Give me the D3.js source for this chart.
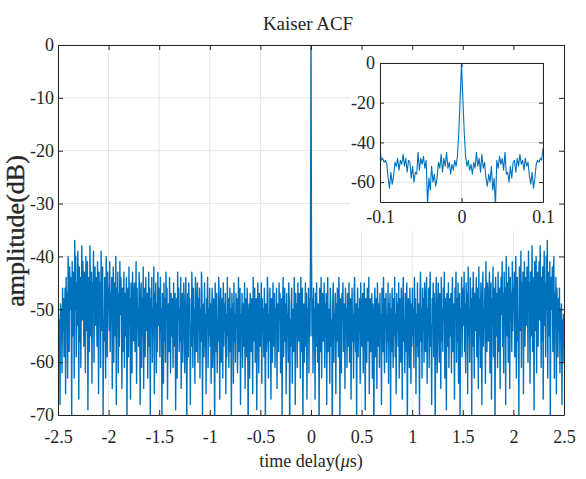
<!DOCTYPE html>
<html>
<head>
<meta charset="utf-8">
<script src="https://cdn.jsdelivr.net/npm/d3@7"></script>
<style>
  body { margin: 0; background: #fff; }
  text { font-family: "Liberation Serif", "Times New Roman", serif; fill: #262626; }
</style>
</head>
<body>
<svg id="chart" width="586" height="479"></svg>
<script>
// one-sided ACF in dB, lag 0 .. 2.5 us (the curve is symmetric about 0)
var acfMain = [
  0, -40, -55, -48, -62, -46, -53, -50, -67, -47, -57, -45, -52, -60, -49, -54, -72, -46, -51, -58, -44, -63, -50, -47, -56,
  -52, -45, -61, -49, -55, -47, -68, -51, -44, -58, -50, -53, -64, -46, -49, -57, -52, -75, -48, -45, -60, -51, -54, -47, -66,
  -49, -56, -46, -52, -59, -44, -50, -70, -48, -55, -62, -47, -51, -45, -58, -53, -49, -65, -46, -54, -50, -61, -47, -57, -52,
  -45, -60, -50, -48, -67, -53, -46, -56, -51, -63, -47, -44, -55, -58, -49, -71, -52, -46, -59, -50, -54, -48, -64, -45, -53,
  -57, -49, -47, -62, -51, -45, -55, -69, -48, -52, -60, -46, -50, -56, -44, -66, -53, -48, -58, -51, -47, -63, -49, -55, -74,
  -50, -46, -59, -53, -48, -65, -45, -52, -57, -49, -61, -47, -54, -51, -68, -46, -50, -58, -44, -55, -62, -48, -53, -47, -60,
  -51, -56, -45, -64, -49, -53, -47, -70, -50, -58, -46, -52, -61, -48, -55, -44, -59, -51, -66, -47, -54, -49, -57, -45, -63,
  -48, -53, -60, -46, -51, -67, -49, -44, -56, -52, -62, -47, -58, -50, -45, -73, -53, -48, -55, -61, -46, -51, -64, -49, -57,
  -46, -55, -50, -61, -44, -52, -48, -66, -51, -57, -45, -59, -49, -53, -70, -47, -43, -56, -50, -63, -46, -54, -48, -60, -45,
  -52, -58, -47, -44, -64, -50, -55, -46, -61, -49, -43, -57, -53, -68, -48, -51, -45, -59, -47, -54, -72, -50, -44, -56, -62,
  -49, -45, -53, -60, -47, -51, -65, -44, -56, -50, -58, -46, -52, -43, -63, -48, -54, -69, -47, -50, -57, -45, -61, -52, -48,
  -55, -47, -62, -50, -44, -58, -49, -53, -67, -46, -51, -43, -60, -48, -56, -45, -64, -52, -47, -71, -50, -54, -44, -59, -49,
  -46, -53, -43, -58, -49, -62, -45, -51, -47, -66, -42, -55, -50, -60, -44, -52, -48, -70, -46, -57, -43, -50, -63, -47, -54,
  -49, -44, -59, -52, -46, -65, -42, -55, -48, -61, -45, -51, -68, -47, -43, -57, -50, -53, -46, -64, -41, -52, -58, -45, -49,
  -56, -47, -43, -62, -50, -45, -67, -48, -53, -42, -59, -46, -51, -72, -44, -49, -55, -47, -61, -43, -52, -58, -46, -65, -48,
  -44, -51, -41, -57, -47, -62, -43, -53, -46, -68, -40, -50, -55, -45, -60, -42, -49, -65, -44, -52, -47, -58, -41, -54, -46,
  -50, -43, -59, -46, -40, -63, -48, -44, -56, -52, -70, -42, -47, -54, -39, -61, -45, -51, -43, -66, -47, -41, -57, -49, -44,
  -53, -42, -47, -60, -39, -50, -45, -64, -43, -55, -48, -38, -58, -44, -51, -69, -41, -46, -54, -40, -62, -47, -43, -57, -45,
  -41, -52, -38, -48, -61, -44, -56, -42, -67, -46, -39, -53, -45, -59, -40, -50, -37, -63, -47, -43, -55, -41, -71, -48, -44,
  -50, -42, -58, -45, -40, -63, -47, -53, -44, -66, -46, -51, -59, -48, -54, -46, -62, -50, -55, -49, -68, -52, -57, -51, -60
];
var mainLagMax = 2.5;

// one-sided ACF in dB, lag 0 .. 0.1 us, for the zoomed inset
var acfZoom = [
  0, -18, -35, -47, -52, -49, -54, -51, -56, -50, -53, -45, -52, -48, -55, -46, -53, -50, -58, -62,
  -56, -60, -52, -64, -58, -72, -49, -53, -47, -51, -48, -54, -45, -56, -55, -60, -52, -58, -50, -49,
  -55, -48, -52, -46, -51, -49, -54, -48, -52, -50, -57, -61, -55, -63, -58, -51, -49, -50, -48, -49, -43
];
var zoomLagMax = 0.1;

var xTicksMain = [-2.5, -2, -1.5, -1, -0.5, 0, 0.5, 1, 1.5, 2, 2.5];
var yTicksMain = [0, -10, -20, -30, -40, -50, -60, -70];
var xTicksZoom = [-0.1, 0, 0.1];
var yTicksZoom = [0, -20, -40, -60];

var svg = d3.select("#chart");
var lineColor = "#0072BD", axisColor = "#262626", gridColor = "#e5e5e5";

function twoSided(vals, lagMax) {
  var n = vals.length, step = lagMax / (n - 1), pts = [];
  for (var i = n - 1; i > 0; i--) pts.push([-i * step, vals[i]]);
  for (var j = 0; j < n; j++) pts.push([j * step, vals[j]]);
  return pts;
}

// draws grid, clipped curve and a boxed axis with inward ticks
function panel(id, box, xDom, yDom, xt, yt, pts, opt) {
  var x = d3.scaleLinear().domain(xDom).range([box.x0, box.x1]);
  var y = d3.scaleLinear().domain(yDom).range([box.y1, box.y0]);
  var g = svg.append("g");

  g.append("clipPath").attr("id", id).append("rect")
    .attr("x", box.x0).attr("y", box.y0)
    .attr("width", box.x1 - box.x0).attr("height", box.y1 - box.y0);

  if (opt.bg) {
    g.append("rect").attr("x", box.x0).attr("y", box.y0)
      .attr("width", box.x1 - box.x0).attr("height", box.y1 - box.y0).attr("fill", "#fff");
  }

  g.selectAll(".vg").data(xt).enter().append("line")
    .attr("x1", d => x(d)).attr("x2", d => x(d))
    .attr("y1", box.y0).attr("y2", box.y1)
    .attr("stroke", gridColor).attr("stroke-width", 1);
  g.selectAll(".hg").data(yt).enter().append("line")
    .attr("x1", box.x0).attr("x2", box.x1)
    .attr("y1", d => y(d)).attr("y2", d => y(d))
    .attr("stroke", gridColor).attr("stroke-width", 1);

  g.append("path").datum(pts)
    .attr("clip-path", "url(#" + id + ")")
    .attr("fill", "none").attr("stroke", lineColor).attr("stroke-width", opt.lw)
    .attr("stroke-linejoin", "round")
    .attr("d", d3.line().x(d => x(d[0])).y(d => y(d[1])));

  var axes = svg.append("g").attr("class", "axes");
  var fmt = d => String(d);
  var tl = opt.tick;
  axes.append("g").attr("transform", "translate(0," + box.y1 + ")")
    .call(d3.axisBottom(x).tickValues(xt).tickFormat(fmt).tickSize(-tl).tickSizeOuter(0).tickPadding(opt.xpad));
  axes.append("g").attr("transform", "translate(0," + box.y0 + ")")
    .call(d3.axisTop(x).tickValues(xt).tickFormat("").tickSize(-tl).tickSizeOuter(0));
  axes.append("g").attr("transform", "translate(" + box.x0 + ",0)")
    .call(d3.axisLeft(y).tickValues(yt).tickFormat(fmt).tickSize(-tl).tickSizeOuter(0).tickPadding(opt.ypad));
  axes.append("g").attr("transform", "translate(" + box.x1 + ",0)")
    .call(d3.axisRight(y).tickValues(yt).tickFormat("").tickSize(-tl).tickSizeOuter(0));
  axes.selectAll("path.domain").attr("stroke", axisColor).attr("stroke-width", 1);
  axes.selectAll(".tick line").attr("stroke", axisColor);
  axes.selectAll(".tick text").attr("font-size", 18).attr("font-family", null).attr("fill", axisColor);
  return axes;
}

var mainBox = { x0: 58, x1: 564, y0: 45, y1: 415 };
var mainAxes = panel("clipMain", mainBox, [-2.5, 2.5], [-70, 0], xTicksMain, yTicksMain,
  twoSided(acfMain, mainLagMax), { lw: 1.4, tick: 5, xpad: 15, ypad: 4 });

// white area behind the inset (covers main grid), then main box drawn on top again
svg.append("rect").attr("x", 350).attr("y", mainBox.y0).attr("width", mainBox.x1 - 350)
  .attr("height", 231 - mainBox.y0).attr("fill", "#fff");
mainAxes.raise();

var zoomBox = { x0: 380, x1: 543, y0: 63, y1: 202 };
panel("clipZoom", zoomBox, [-0.1, 0.1], [-70, 0], xTicksZoom, yTicksZoom,
  twoSided(acfZoom, zoomLagMax), { lw: 1.1, tick: 4, xpad: 8, ypad: 5, bg: true });

svg.append("text").attr("x", 308).attr("y", 30).attr("text-anchor", "middle")
  .attr("font-size", 19).text("Kaiser ACF");

var xl = svg.append("text").attr("x", 311).attr("y", 467).attr("text-anchor", "middle")
  .attr("font-size", 18);
xl.append("tspan").text("time delay(");
xl.append("tspan").attr("font-style", "italic").text("μ");
xl.append("tspan").text("s)");

svg.append("text").attr("transform", "translate(24,231) rotate(-90)")
  .attr("text-anchor", "middle").attr("font-size", 26)
  .attr("stroke", "#262626").attr("stroke-width", 0.4)
  .text("amplitude(dB)");
</script>
</body>
</html>
